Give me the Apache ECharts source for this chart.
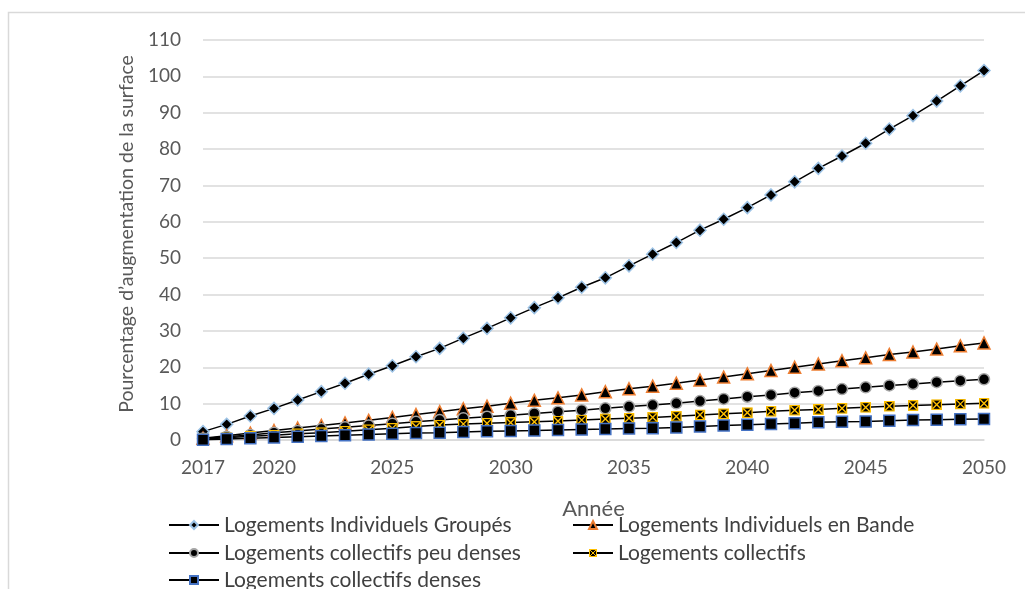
<!DOCTYPE html>
<html>
<head>
<meta charset="utf-8">
<script src="https://cdn.jsdelivr.net/npm/echarts@6/dist/echarts.min.js"></script>
<style>
  html, body { margin: 0; padding: 0; background: #fff; }
  #chart { width: 1025px; height: 589px; }
</style>
</head>
<body>
<div id="chart"></div>
<script>
// Years on the horizontal axis
const years = [];
for (let y = 2017; y <= 2050; y++) years.push(String(y));

// Percentage increase in surface per housing type
const groupes = [2.3, 4.3, 6.6, 8.7, 11.0, 13.3, 15.6, 18.1, 20.4, 22.9, 25.2, 28.0, 30.7, 33.6, 36.4, 39.1, 42.0,
  44.6, 47.9, 51.1, 54.3, 57.7, 60.7, 63.9, 67.4, 71.0, 74.7, 78.1, 81.6, 85.5, 89.2, 93.2, 97.4, 101.6];
const bande = [0.5, 1.2, 1.9, 2.6, 3.3, 4.0, 4.7, 5.4, 6.2, 7.0, 7.8, 8.6, 9.3, 10.1, 10.9, 11.6, 12.4,
  13.3, 14.1, 14.8, 15.6, 16.5, 17.3, 18.2, 19.1, 20.0, 20.9, 21.8, 22.6, 23.5, 24.2, 25.0, 25.9, 26.7];
const peuDenses = [0.4, 0.9, 1.4, 2.0, 2.5, 3.0, 3.5, 4.0, 4.5, 5.0, 5.5, 6.0, 6.4, 6.8, 7.3, 7.8, 8.2,
  8.7, 9.2, 9.6, 10.1, 10.7, 11.3, 11.9, 12.4, 13.0, 13.5, 14.0, 14.5, 15.0, 15.4, 15.9, 16.3, 16.7];
const collectifs = [0.3, 0.6, 1.0, 1.3, 1.7, 2.0, 2.4, 2.8, 3.2, 3.7, 4.1, 4.4, 4.6, 4.8, 5.0, 5.2, 5.5,
  5.8, 6.0, 6.2, 6.5, 6.9, 7.2, 7.5, 7.9, 8.2, 8.4, 8.7, 9.0, 9.3, 9.5, 9.7, 9.9, 10.1];
const denses = [0.1, 0.3, 0.5, 0.7, 0.9, 1.1, 1.3, 1.5, 1.7, 1.9, 2.0, 2.2, 2.4, 2.5, 2.6, 2.75, 2.9,
  3.0, 3.15, 3.25, 3.45, 3.7, 4.0, 4.2, 4.4, 4.6, 4.85, 5.0, 5.1, 5.3, 5.5, 5.6, 5.7, 5.8];

const names = [
  'Logements Individuels Groupés',
  'Logements Individuels en Bande',
  'Logements collectifs peu denses',
  'Logements collectifs',
  'Logements collectifs denses'
];

const FONT = 'Lato, "Open Sans", sans-serif';

// Black square crossed by a gold X
const crossSvg = "<svg xmlns='http://www.w3.org/2000/svg' width='24' height='24' viewBox='0 0 24 24'>" +
  "<rect x='1.5' y='1.5' width='21' height='21' fill='#000' stroke='#FFC000' stroke-width='3'/>" +
  "<path d='M3 3L21 21M21 3L3 21' stroke='#FFC000' stroke-width='3'/></svg>";
const crossSymbol = 'image://data:image/svg+xml;utf8,' + encodeURIComponent(crossSvg);

function lineSeries(name, data, symbol, size, border) {
  return {
    name: name,
    type: 'line',
    data: data,
    symbol: symbol,
    symbolSize: size,
    showAllSymbol: true,
    lineStyle: { color: '#000', width: 1.5 },
    itemStyle: { color: '#000', borderColor: border, borderWidth: 1.5 },
    emphasis: { disabled: true }
  };
}

// One legend entry per box so the two columns line up
function legendItem(name, left, rowCenter, lineLen) {
  return {
    data: [name],
    left: left,
    top: rowCenter - 12,
    padding: 0,
    itemWidth: lineLen,
    itemHeight: 10,
    itemGap: 0,
    textStyle: { color: '#404040', fontSize: 21, fontFamily: FONT, lineHeight: 24 }
  };
}

const chart = echarts.init(document.getElementById('chart'), null, { renderer: 'canvas' });
chart.setOption({
  animation: false,
  backgroundColor: '#fff',
  graphic: [{
    type: 'rect',
    shape: { x: 8.5, y: 12.5, width: 1200, height: 800 },
    style: { fill: 'none', stroke: '#D9D9D9', lineWidth: 1.5 },
    silent: true,
    z: -10
  }],
  grid: { left: 203, right: 41, top: 40, bottom: 149 },
  xAxis: {
    type: 'category',
    data: years,
    boundaryGap: false,
    axisLine: { show: true, lineStyle: { color: '#D9D9D9', width: 1.5 } },
    axisTick: { show: false },
    axisLabel: {
      interval: function (i, v) { return v === '2017' || Number(v) % 5 === 0; },
      margin: 18,
      color: '#595959',
      fontSize: 19,
      fontFamily: FONT
    },
    name: 'Année',
    nameLocation: 'middle',
    nameGap: 58,
    nameTextStyle: { color: '#595959', fontSize: 22, fontFamily: FONT }
  },
  yAxis: {
    type: 'value',
    min: 0,
    max: 110,
    interval: 10,
    axisLine: { show: false },
    axisTick: { show: false },
    splitLine: { lineStyle: { color: '#D9D9D9', width: 1.5 } },
    axisLabel: { margin: 22, color: '#595959', fontSize: 19, fontFamily: FONT },
    name: 'Pourcentage d’augmentation de la surface',
    nameLocation: 'middle',
    nameGap: 66,
    nameTextStyle: { color: '#595959', fontSize: 19.5, fontFamily: FONT, padding: [0, 0, 0, 12] }
  },
  legend: [
    legendItem(names[0], 168, 525, 50),
    legendItem(names[1], 572, 525, 40),
    legendItem(names[2], 168, 553, 50),
    legendItem(names[3], 572, 553, 40),
    legendItem(names[4], 168, 580, 50)
  ],
  series: [
    lineSeries(names[0], groupes, 'diamond', 12, '#9DC3E6'),
    lineSeries(names[1], bande, 'triangle', 12, '#ED7D31'),
    lineSeries(names[2], peuDenses, 'circle', 11, '#A5A5A5'),
    lineSeries(names[3], collectifs, crossSymbol, 11, '#FFC000'),
    lineSeries(names[4], denses, 'rect', 11, '#4472C4')
  ]
});
</script>
</body>
</html>
